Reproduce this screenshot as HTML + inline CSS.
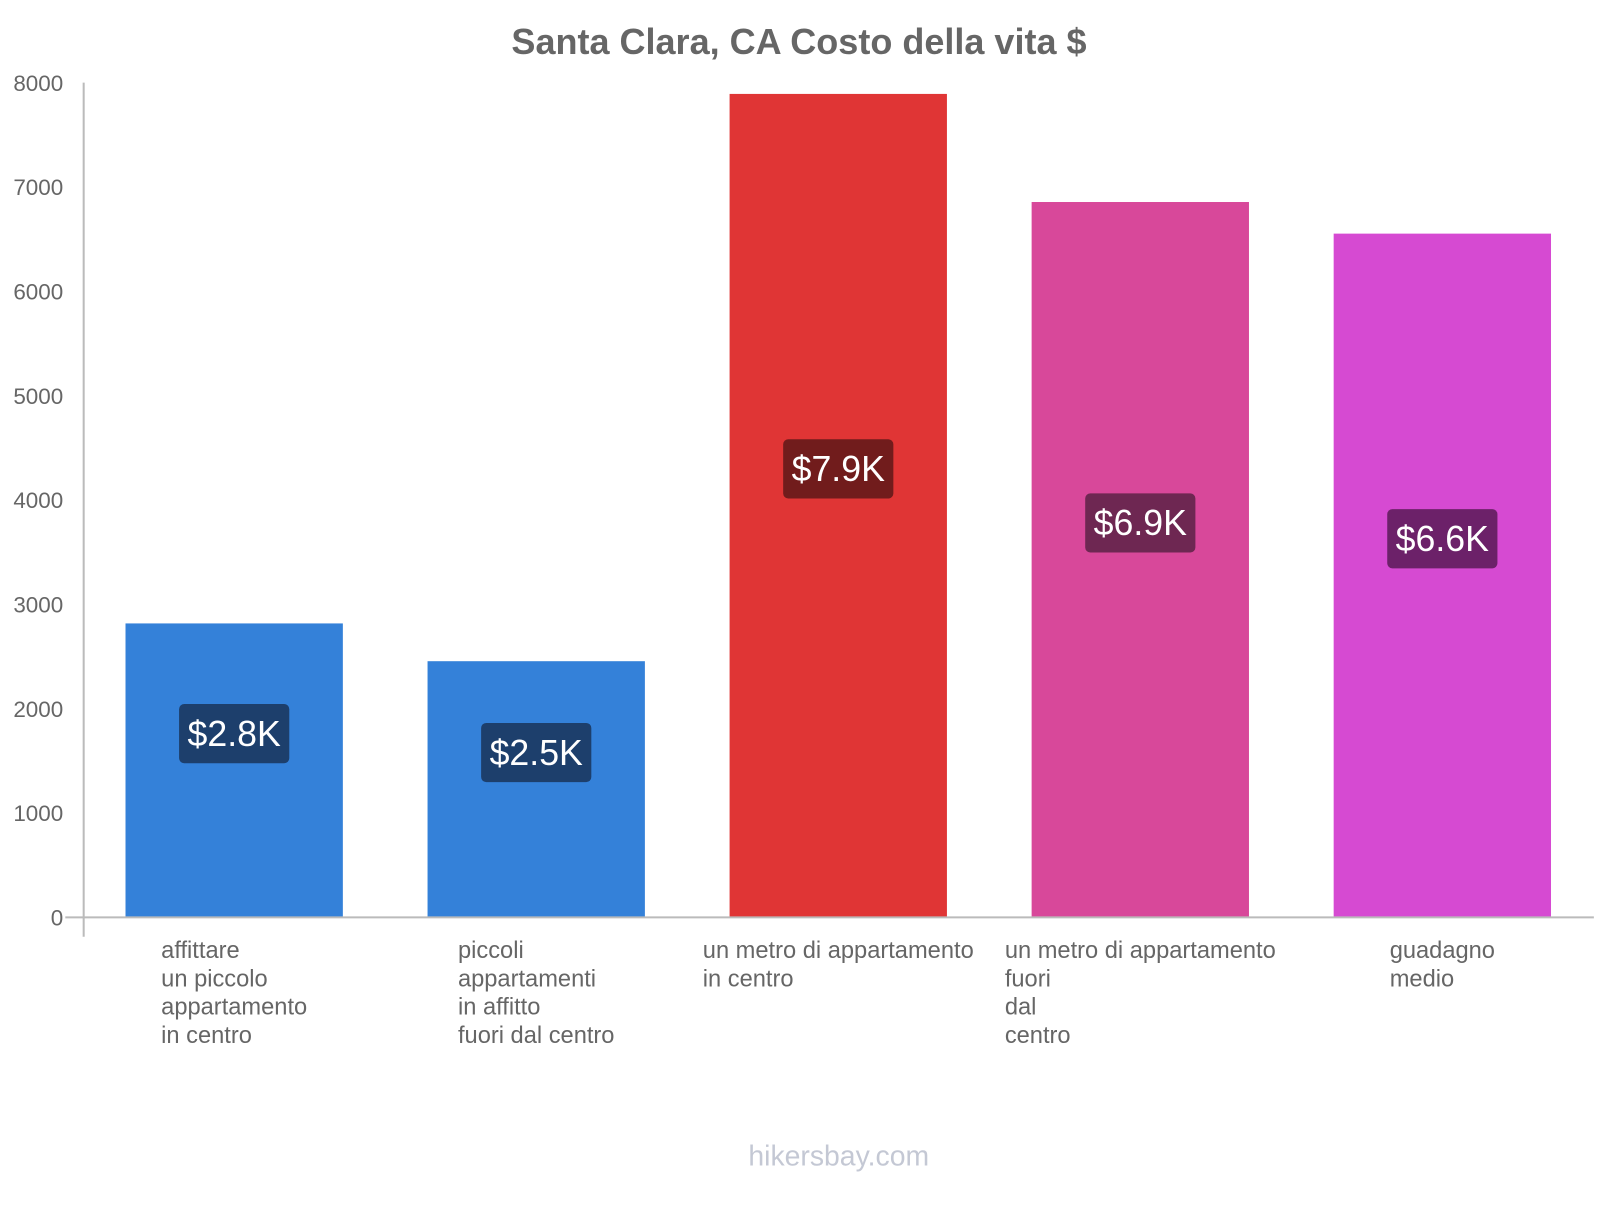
<!DOCTYPE html>
<html><head><meta charset="utf-8">
<style>
html,body{margin:0;padding:0;background:#fff;width:1600px;height:1200px;overflow:hidden;font-family:"Liberation Sans",sans-serif;}
#chart{position:absolute;left:0;top:0;width:1600px;height:1200px;transform:scale(1.0204);transform-origin:0 0;}
.xl{position:absolute;top:918px;transform:translateX(-50%);font-size:23.2px;line-height:27.5px;color:#666;white-space:nowrap;text-align:left;}
</style></head><body>
<div id="chart">
<svg id="svg" width="1600" height="1200">
<text x="783" y="53" text-anchor="middle" font-size="35.3" font-weight="bold" fill="#666">Santa Clara, CA Costo della vita $</text>
<text x="822" y="1142" text-anchor="middle" font-size="27.8" fill="#c4c8d4">hikersbay.com</text>
</svg>
</div>
<script>
const categories=[["affittare","un piccolo","appartamento","in centro"],["piccoli","appartamenti","in affitto","fuori dal centro"],["un metro di appartamento","in centro"],["un metro di appartamento","fuori","dal","centro"],["guadagno","medio"]];
const values=[2817,2455,7892,6856,6553];
const valueLabels=["$2.8K","$2.5K","$7.9K","$6.9K","$6.6K"];
const yTicks=[0,1000,2000,3000,4000,5000,6000,7000,8000];
const barColors=["#3481d9","#3481d9","#e03535","#d8489a","#d64ad2"];
const labelColors=["#1d3f6c","#1d3f6c","#711c1c","#6e2752","#6c2169"];
const NS="http://www.w3.org/2000/svg";
const svg=document.getElementById('svg');
const chart=document.getElementById('chart');
const y0=899,yTop=81,yMax=8000;
function yS(v){return y0-(v/yMax)*(y0-yTop);}
function xC(i){return 229.5+i*296;}
const bw=213;
function mk(tag,attrs){const e=document.createElementNS(NS,tag);for(const k in attrs)e.setAttribute(k,attrs[k]);svg.appendChild(e);return e;}
yTicks.forEach(t=>{
  const tx=mk('text',{x:62,y:yS(t)+8,'text-anchor':'end','font-size':22,fill:'#666'});
  tx.textContent=t;
  
  
});
const ax=mk('line',{x1:82,y1:81,x2:82,y2:918,stroke:'#bbb','stroke-width':2});


values.forEach((v,i)=>{
  const top=yS(v);
  const r=mk('rect',{x:xC(i)-bw/2,y:top,width:bw,height:y0-top,fill:barColors[i]});
  
  
  const cy=(top+y0)/2-36;
  const b=mk('rect',{x:xC(i)-54,y:cy-29,width:108,height:58,rx:5,fill:labelColors[i]});
  
  
  const t=mk('text',{x:xC(i),y:cy+12,'text-anchor':'middle','font-size':35,fill:'#fff'});
  t.textContent=valueLabels[i];
  
  
  const d=document.createElement('div');
  d.className='xl';
  d.style.left=xC(i)+'px';
  d.innerHTML=categories[i].join('<br>');
  
  
  chart.appendChild(d);
});
const bl=mk('line',{x1:64,y1:y0,x2:1562,y2:y0,stroke:'#bbb','stroke-width':2});


</script>
</body></html>
